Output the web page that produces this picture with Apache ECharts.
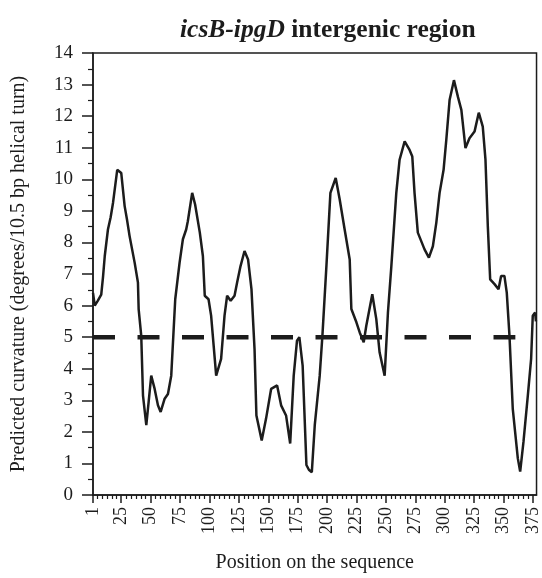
<!DOCTYPE html>
<html>
<head>
<meta charset="utf-8">
<script src="https://cdn.jsdelivr.net/npm/echarts@6/dist/echarts.min.js"></script>
<style>html,body{margin:0;padding:0;background:#fff}#c{width:542px;height:578px}</style>
</head>
<body>
<div id="c"></div>
<script>
var positions = [1, 2.5, 5, 8, 9.5, 11, 13.7, 16, 18, 21.6, 25, 27.9, 30, 32.1, 36.4, 39.2, 39.8, 42, 43.5, 46.3, 48.3, 50.5, 53.4, 56.2, 58.5, 61.9, 64.7, 67.5, 70.9, 74.6, 77.4, 80.2, 81.6, 85.3, 87.8, 91.8, 94.4, 96, 99.2, 101.4, 105.7, 109.9, 112.8, 115, 118, 121.3, 123.5, 126.4, 129.8, 132.8, 135.7, 138.3, 139.9, 144.4, 148.1, 152.4, 157.5, 160.9, 165.1, 168.6, 171.6, 174.4, 176.4, 179.2, 182.4, 184.5, 187, 189.5, 193.7, 196, 199.4, 202.8, 207.3, 210.7, 214.9, 219.2, 220.6, 224.9, 227.7, 231.1, 233.3, 238.4, 241.8, 244.6, 248.9, 251.7, 254.6, 258.8, 261.6, 265.9, 270.1, 272.4, 274.3, 277.1, 282.8, 286.5, 289.9, 292.8, 295.6, 299, 301.3, 304.1, 307.8, 311.2, 314.1, 317.6, 321, 325.3, 328.9, 332.3, 334.6, 336.6, 338.6, 342.3, 345.7, 347.9, 350.7, 352.7, 355, 357.8, 362.1, 364.1, 366.9, 370.6, 373.4, 374.8, 376.8, 377.5];
var curvature = [6.4, 6.0, 6.15, 6.35, 6.9, 7.57, 8.41, 8.8, 9.25, 10.3, 10.2, 9.15, 8.7, 8.2, 7.36, 6.73, 5.89, 5.05, 3.15, 2.21, 2.95, 3.78, 3.36, 2.84, 2.63, 3.05, 3.2, 3.78, 6.2, 7.36, 8.1, 8.41, 8.67, 9.57, 9.2, 8.31, 7.57, 6.31, 6.2, 5.68, 3.78, 4.31, 5.68, 6.31, 6.15, 6.31, 6.73, 7.25, 7.73, 7.46, 6.52, 4.63, 2.52, 1.73, 2.42, 3.36, 3.47, 2.84, 2.52, 1.63, 3.78, 4.89, 5.0, 4.1, 0.95, 0.8, 0.72, 2.21, 3.78, 5.05, 7.25, 9.57, 10.04, 9.36, 8.41, 7.46, 5.89, 5.47, 5.15, 4.84, 5.36, 6.36, 5.57, 4.52, 3.78, 5.78, 7.25, 9.57, 10.62, 11.2, 10.93, 10.72, 9.57, 8.31, 7.78, 7.52, 7.88, 8.62, 9.57, 10.3, 11.25, 12.51, 13.14, 12.61, 12.2, 10.99, 11.3, 11.51, 12.11, 11.67, 10.62, 8.51, 6.83, 6.68, 6.52, 6.94, 6.94, 6.41, 5.05, 2.73, 1.16, 0.74, 1.68, 3.15, 4.31, 5.68, 5.78, 5.5];
var xTickLabels = [1, 25, 50, 75, 100, 125, 150, 175, 200, 225, 250, 275, 300, 325, 350, 375];
var thresholdPos = [1, 360];
var thresholdVal = [5, 5];

var minorTicks = [];
for (var i = 0; i < xTickLabels.length - 1; i++) {
  var a = xTickLabels[i], b = xTickLabels[i + 1];
  for (var k = 1; k < 6; k++) minorTicks.push(a + (b - a) * k / 6);
}

var serif = '"Liberation Serif", "DejaVu Serif", serif';
var ink = '#1c1c1c';

var chart = echarts.init(document.getElementById('c'));
chart.setOption({
  animation: false,
  title: {
    text: '{i|icsB-ipgD}{b| intergenic region}',
    left: 175, top: 12,
    textStyle: {
      rich: {
        i: {fontFamily: serif, fontSize: 25.5, fontWeight: 'bold', fontStyle: 'italic', color: ink},
        b: {fontFamily: serif, fontSize: 25.5, fontWeight: 'bold', color: ink}
      }
    }
  },
  grid: {left: 93, right: 5, top: 53, bottom: 81, show: true, borderColor: ink, borderWidth: 1.5, backgroundColor: 'transparent'},
  xAxis: [{
    type: 'value', min: 1, max: 378,
    name: 'Position on the sequence', nameLocation: 'middle', nameGap: 58,
    nameTextStyle: {fontFamily: serif, fontSize: 20, color: ink},
    axisLine: {show: true, lineStyle: {color: ink, width: 1.5}},
    axisTick: {show: true, length: 8, lineStyle: {color: ink, width: 1.5}, customValues: xTickLabels},
    axisLabel: {rotate: 90, margin: 12, fontFamily: serif, fontSize: 18, color: ink, customValues: xTickLabels},
    splitLine: {show: false}
  }, {
    type: 'value', min: 1, max: 378, position: 'bottom',
    axisLine: {show: false},
    axisTick: {show: true, length: 4, lineStyle: {color: ink, width: 1.2}, customValues: minorTicks},
    axisLabel: {show: false},
    splitLine: {show: false}
  }],
  yAxis: {
    type: 'value', min: 0, max: 14, interval: 1,
    name: 'Predicted curvature (degrees/10.5 bp helical turn)', nameLocation: 'middle', nameGap: 64,
    nameTextStyle: {fontFamily: serif, fontSize: 20, color: ink},
    axisLine: {show: true, lineStyle: {color: ink, width: 1.5}},
    axisTick: {show: true, length: 11, lineStyle: {color: ink, width: 1.5}},
    minorTick: {show: true, splitNumber: 2, length: 5, lineStyle: {color: ink, width: 1.2}},
    axisLabel: {margin: 20, fontFamily: serif, fontSize: 19, color: ink},
    splitLine: {show: false}
  },
  series: [{
    type: 'line', xAxisIndex: 0, symbol: 'none',
    data: thresholdPos.map(function (p, i) { return [p, thresholdVal[i]]; }),
    lineStyle: {color: ink, width: 4.5, type: [22, 22.5]}
  }, {
    type: 'line', xAxisIndex: 0, symbol: 'none', smooth: false,
    data: positions.map(function (p, i) { return [p, curvature[i]]; }),
    lineStyle: {color: ink, width: 2.5}
  }]
});
</script>
</body>
</html>
